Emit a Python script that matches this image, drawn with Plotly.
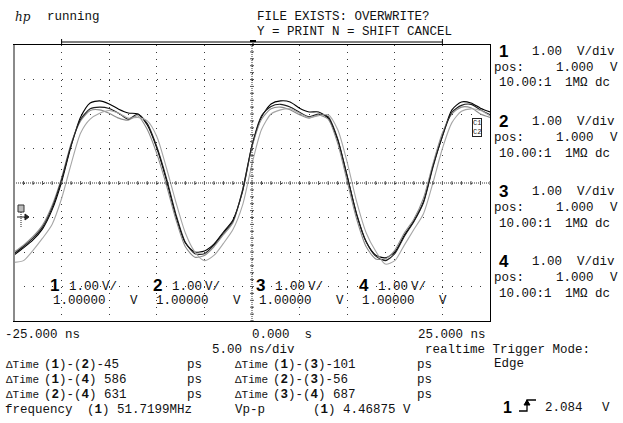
import plotly.graph_objects as go

# ---------------- data ----------------
time_ns = list(range(-25, 26))

ch1_v = [-1.09, -0.88, -0.65, -0.33, 0.22, 1.03, 2.07, 2.91, 3.32, 3.38,
         3.29, 3.14, 3.03, 3.00, 2.68, 2.01, 1.09, 0.04, -0.74, -1.00,
         -0.97, -0.77, -0.42, -0.07, 0.74, 2.07, 2.91, 3.29, 3.38, 3.35,
         3.17, 3.06, 3.06, 2.88, 2.25, 1.20, 0.07, -0.71, -1.09, -1.17,
         -1.00, -0.51, -0.10, 0.45, 1.49, 2.36, 3.12, 3.35, 3.32, 3.17, 3.06]
ch2_v = [-1.00, -0.80, -0.55, -0.22, 0.35, 1.15, 2.15, 2.80, 3.10, 3.12,
         3.02, 2.88, 2.82, 2.95, 2.55, 1.85, 0.95, -0.05, -0.85, -1.15,
         -1.10, -0.85, -0.50, -0.15, 0.80, 2.05, 2.85, 3.15, 3.20, 3.12,
         2.98, 2.88, 2.97, 2.85, 2.15, 1.05, -0.05, -0.85, -1.20, -1.20,
         -0.95, -0.45, -0.05, 0.55, 1.55, 2.45, 3.00, 3.20, 3.18, 3.00, 2.90]
ch3_v = [-1.05, -0.84, -0.60, -0.28, 0.28, 1.10, 2.10, 2.85, 3.15, 3.20,
         3.16, 3.02, 2.85, 3.00, 2.72, 2.05, 1.15, 0.10, -0.72, -1.05,
         -1.05, -0.80, -0.45, -0.10, 0.78, 2.10, 2.95, 3.22, 3.28, 3.20,
         3.05, 2.92, 3.00, 2.92, 2.28, 1.20, 0.10, -0.70, -1.12, -1.25,
         -1.05, -0.55, -0.12, 0.42, 1.45, 2.35, 3.05, 3.25, 3.28, 3.12, 2.98]
ch4_v = [-1.30, -1.25, -0.95, -0.60, -0.20, 0.55, 1.55, 2.45, 2.85, 3.02,
         3.10, 3.02, 2.88, 2.90, 2.80, 2.35, 1.45, 0.45, -0.45, -1.00,
         -1.25, -1.10, -0.75, -0.35, 0.35, 1.55, 2.55, 3.00, 3.12, 3.15,
         3.02, 2.90, 2.95, 2.98, 2.55, 1.60, 0.45, -0.45, -0.98, -1.35,
         -1.25, -0.80, -0.35, 0.10, 1.00, 2.00, 2.75, 3.08, 3.15, 3.10, 2.95]

channel_ids = ["1", "2", "3", "4"]
volts_div = ["1.00", "1.00", "1.00", "1.00"]
pos_text = ["1.000", "1.000", "1.000", "1.000"]
screen_offset = ["1.00000", "1.00000", "1.00000", "1.00000"]
probe_text = ["10.00:1", "10.00:1", "10.00:1", "10.00:1"]
coupling_text = ["1MΩ dc", "1MΩ dc", "1MΩ dc", "1MΩ dc"]

time_labels = ["-25.000 ns", "0.000  s", "25.000 ns"]
timebase = "5.00 ns/div"
delta_col1 = ["(<b>1</b>)-(<b>2</b>)-45", "(<b>1</b>)-(<b>4</b>) 586", "(<b>2</b>)-(<b>4</b>) 631"]
delta_col2 = ["(<b>1</b>)-(<b>3</b>)-101", "(<b>2</b>)-(<b>3</b>)-56", "(<b>3</b>)-(<b>4</b>) 687"]
frequency_text = "(<b>1</b>) 51.7199MHz"
vpp_text = "(<b>1</b>) 4.46875 V"
trigger_level = "2.084"

# ---------------- styling / geometry ----------------
MONO = "Liberation Mono"
SANS = "Liberation Sans"
FS = 12.5
L, T, W, H = 14, 45, 476, 276
FIG_W, FIG_H = 623, 423

def px(x):
    return (x - L) / W

def py(y):
    return (T + H - y) / H

fig = go.Figure()

colors = ["#000000", "#8c8c8c", "#1e1e1e", "#a6a6a6"]
for vals, c in zip([ch1_v, ch2_v, ch3_v, ch4_v], colors):
    fig.add_trace(go.Scatter(x=time_ns, y=vals, mode="lines",
                             line=dict(color=c, width=1.1, shape="spline", smoothing=0.7),
                             hoverinfo="skip", showlegend=False))

fig.update_layout(
    width=FIG_W, height=FIG_H, autosize=False,
    margin=dict(l=L, r=FIG_W - L - W, t=T, b=FIG_H - T - H, pad=0),
    paper_bgcolor="white", plot_bgcolor="white",
    xaxis=dict(range=[-25, 25], dtick=5, showgrid=True, gridcolor="#3a3a3a", gridwidth=1,
               griddash="1px,5.9px", zeroline=False, showticklabels=False, ticks="",
               showline=True, linecolor="#000", linewidth=1, mirror=True, fixedrange=True),
    yaxis=dict(range=[-3, 5], dtick=1, showgrid=True, gridcolor="#3a3a3a", gridwidth=1,
               griddash="1px,8.52px", zeroline=False, showticklabels=False, ticks="",
               showline=True, linecolor="#000", linewidth=1, mirror=True, fixedrange=True),
)

shapes = []
# center crosshair (dense dotted)
shapes.append(dict(type="line", xref="x", yref="y", x0=-25, x1=25, y0=1, y1=1,
                   line=dict(color="#333", width=1, dash="1px,1px")))
shapes.append(dict(type="line", xref="x", yref="y", x0=0, x1=0, y0=-3, y1=5,
                   line=dict(color="#333", width=1, dash="1px,1px")))
# minor ticks on crosshair
yc = py(183)
for k in range(-25, 26):
    shapes.append(dict(type="line", xref="x", yref="paper", x0=k, x1=k,
                       y0=yc - 2 / H, y1=yc + 2 / H, line=dict(color="#555", width=1)))
xc = px(252)
for k in range(0, 41):
    v = -3 + k * 0.2
    shapes.append(dict(type="line", xref="paper", yref="y", x0=xc - 2 / W, x1=xc + 2 / W,
                       y0=v, y1=v, line=dict(color="#555", width=1)))
# left gray border
shapes.append(dict(type="line", xref="paper", yref="paper", x0=px(14), x1=px(14),
                   y0=py(45), y1=py(321), line=dict(color="#8a8a8a", width=2)))
# memory bar
shapes.append(dict(type="line", xref="x", yref="paper", x0=-20, x1=20, y0=py(42), y1=py(42),
                   line=dict(color="#000", width=1)))
for xe in (-20, 20):
    shapes.append(dict(type="line", xref="x", yref="paper", x0=xe, x1=xe, y0=py(39), y1=py(45),
                       line=dict(color="#000", width=1)))
shapes.append(dict(type="line", xref="paper", yref="paper", x0=px(250), x1=px(256),
                   y0=py(41), y1=py(41), line=dict(color="#000", width=2)))
shapes.append(dict(type="line", xref="paper", yref="paper", x0=px(253), x1=px(253),
                   y0=py(41), y1=py(46), line=dict(color="#000", width=1, dash="1px,1px")))
# ground / reference marker at left
shapes.append(dict(type="rect", xref="paper", yref="paper", x0=px(18), x1=px(24),
                   y0=py(212), y1=py(205), line=dict(color="#333", width=1), fillcolor="#bbb"))
shapes.append(dict(type="line", xref="paper", yref="paper", x0=px(17), x1=px(25),
                   y0=py(217), y1=py(217), line=dict(color="#222", width=1)))
shapes.append(dict(type="line", xref="paper", yref="paper", x0=px(21), x1=px(21),
                   y0=py(212), y1=py(227), line=dict(color="#222", width=1, dash="1px,1px")))
shapes.append(dict(type="path", xref="paper", yref="paper",
                   path="M %f %f L %f %f L %f %f Z" % (px(25), py(214), px(29), py(217), px(25), py(220)),
                   fillcolor="#222", line=dict(color="#222", width=1)))
# trigger edge symbol
shapes.append(dict(type="path", xref="paper", yref="paper",
                   path="M %f %f L %f %f L %f %f L %f %f" % (px(519), py(411), px(527), py(411),
                                                          px(527), py(400), px(536), py(400)),
                   line=dict(color="#000", width=1.3)))
shapes.append(dict(type="path", xref="paper", yref="paper",
                   path="M %f %f L %f %f L %f %f Z" % (px(524), py(405), px(527), py(400), px(530), py(405)),
                   fillcolor="#000", line=dict(color="#000", width=1)))
fig.update_layout(shapes=shapes)

YS = 1.5  # small vertical correction for text centring


def txt(s, x, y, size=FS, family=MONO, color="#111", **kw):
    fig.add_annotation(text=s, x=px(x), y=py(y + YS), xref="paper", yref="paper",
                       xanchor="left", yanchor="middle", showarrow=False,
                       font=dict(family=family, size=size, color=color), borderpad=0, **kw)


# header
txt("<i>hp</i>", 14, 15, size=12, family="DejaVu Serif")
txt("running", 46, 15)
txt("FILE EXISTS: OVERWRITE?", 256, 15)
txt("Y = PRINT N = SHIFT CANCEL", 256, 31)

# right panel
for k in range(4):
    y0 = 50 + 70 * k
    txt("<b>" + channel_ids[k] + "</b>", 498, y0, size=17, family=SANS, color="#000")
    txt(volts_div[k] + "  V/div", 531, y0)
    txt("pos:", 493, y0 + 16)
    txt(pos_text[k], 555, y0 + 16)
    txt("V", 609, y0 + 16)
    txt(probe_text[k], 498, y0 + 32)
    txt(coupling_text[k], 564, y0 + 32)

# in-screen channel labels
for k in range(4):
    lx = 49 + 103 * k
    txt("<b>" + channel_ids[k] + "</b>", lx, 284, size=17, family=SANS, color="#000")
    txt(volts_div[k], lx + 19, 285)
    txt("V/", lx + 52, 285)
    txt(screen_offset[k], lx + 3, 299)
    txt("V", lx + 80, 299)

# bottom timebase labels
txt(time_labels[0], 4, 333)
txt(time_labels[1], 251, 333)
txt(time_labels[2], 417, 333)
txt(timebase, 211, 348)
txt("realtime Trigger Mode:", 424, 348)
txt("Edge", 493, 362)

rows_y = [363, 378, 393]
for i in range(3):
    txt("ΔTime", 5, rows_y[i], size=11)
    txt(delta_col1[i], 43, rows_y[i])
    txt("ps", 186, rows_y[i])
    txt("ΔTime", 234, rows_y[i], size=11)
    txt(delta_col2[i], 272, rows_y[i])
    txt("ps", 416, rows_y[i])

txt("frequency", 4, 408)
txt(frequency_text, 86, 408)
txt("Vp-p", 234, 408)
txt(vpp_text, 312, 408)
txt("<b>1</b>", 502, 406, size=16, family=SANS, color="#000")
txt(trigger_level, 544, 406)
txt("V", 601, 406)

# channel markers at right edge of screen
txt("C1<br>C2", 472, 126, size=7, family=MONO, color="#222",
    bordercolor="#222", borderwidth=1)

fig.write_html("out.html", config={"displayModeBar": False},
               post_script="document.body.style.margin='0px';")
